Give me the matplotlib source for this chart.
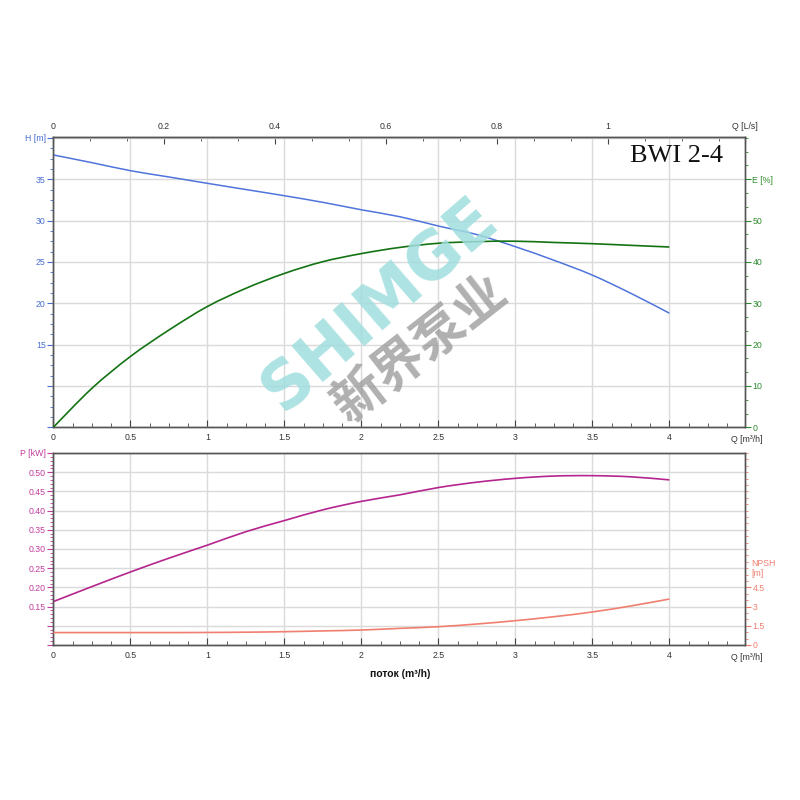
import numpy as np
import matplotlib
matplotlib.use("Agg")
import matplotlib.pyplot as plt
from matplotlib.ticker import MultipleLocator
from matplotlib.path import Path
from matplotlib.patches import PathPatch

plt.rcParams['font.family'] = ['Liberation Sans', 'DejaVu Sans']

# Data (Q in m3/h)
flow = [0, 0.25, 0.5, 0.75, 1.0, 1.25, 1.5, 1.75, 2.0, 2.25, 2.5, 2.75, 3.0, 3.25, 3.5, 3.75, 4.0]
head = [37.93, 37.0, 36.03, 35.27, 34.5, 33.75, 33.0, 32.2, 31.3, 30.46, 29.34, 28.3, 26.84, 25.2, 23.4, 21.2, 18.8]
eff = [0, 9.4, 17.1, 23.5, 29.2, 33.6, 37.2, 40.05, 42.0, 43.5, 44.5, 44.9, 45.0, 44.7, 44.4, 44.0, 43.6]
power = [0.163, 0.202, 0.240, 0.276, 0.310, 0.345, 0.374, 0.402, 0.424, 0.441, 0.460, 0.474, 0.484, 0.490, 0.491, 0.488, 0.480]
npsh = [0.97, 0.97, 0.97, 0.97, 0.98, 1.0, 1.04, 1.1, 1.17, 1.30, 1.43, 1.64, 1.90, 2.21, 2.58, 3.05, 3.59]

h_ticks = [5, 10, 15, 20, 25, 30, 35, 40]
h_labels = ['', '', '15', '20', '25', '30', '35', 'H [m]']
e_ticks = [0, 10, 20, 30, 40, 50, 60]
e_labels = ['0', '10', '20', '30', '40', '50', 'E [%]']
p_ticks = [0.05, 0.10, 0.15, 0.20, 0.25, 0.30, 0.35, 0.40, 0.45, 0.50, 0.55]
p_labels = ['', '', '0.15', '0.20', '0.25', '0.30', '0.35', '0.40', '0.45', '0.50', 'P [kW]']
n_ticks = [0, 1.5, 3, 4.5]
n_labels = ['0', '1.5', '3', '4.5']
q_ticks = [0, 0.5, 1, 1.5, 2, 2.5, 3, 3.5, 4]
q_labels = ['0', '0.5', '1', '1.5', '2', '2.5', '3', '3.5', '4']
ls_ticks = [0, 0.2, 0.4, 0.6, 0.8, 1.0]
ls_labels = ['0', '0.2', '0.4', '0.6', '0.8', '1']

c_h = '#4f74dc'
c_e = '#137313'
c_p = '#b5258f'
c_n = '#f07f70'
c_hl = '#4a6fd0'
c_el = '#2e8b2e'
c_pl = '#c23c9e'
c_spine = '#555555'
c_grid = '#dadada'
fs = 6.3

QMAX = 4.49


# smooth curve through the read points (Catmull-Rom drawn as bezier segments)
def smooth_line(ax, xs, ys, color, lw):
    p = np.column_stack([xs, ys]).astype(float)
    pts = [p[0]]
    codes = [Path.MOVETO]
    for i in range(len(p) - 1):
        p0 = p[i - 1] if i > 0 else p[i]
        p3 = p[i + 2] if i + 2 < len(p) else p[i + 1]
        c1 = p[i] + (p[i + 1] - p0) / 6
        c2 = p[i + 1] - (p3 - p[i]) / 6
        pts += [c1, c2, p[i + 1]]
        codes += [Path.CURVE4] * 3
    ax.add_patch(PathPatch(Path(pts, codes), fill=False, edgecolor=color, lw=lw, zorder=3))


fig = plt.figure(figsize=(8, 8), dpi=100)
ax_h = fig.add_axes([53.3 / 800, 1 - 427.3 / 800, 691.5 / 800, 290.3 / 800])
ax_e = ax_h.twinx()
ax_p = fig.add_axes([53.3 / 800, 1 - 645 / 800, 691.5 / 800, 192 / 800])
ax_n = ax_p.twinx()

for ax in (ax_h, ax_e, ax_p, ax_n):
    for s in ax.spines.values():
        s.set_color(c_spine)
        s.set_linewidth(1.0)

# Top chart: H and E
smooth_line(ax_h, flow, head, c_h, 1.1)
smooth_line(ax_e, flow, eff, c_e, 1.2)
ax_h.set_xlim(0, QMAX)
ax_h.set_ylim(5, 40.1)
ax_e.set_ylim(0, 70.2)

ax_h.set_yticks(h_ticks)
ax_h.set_yticklabels(h_labels)
ax_h.yaxis.set_minor_locator(MultipleLocator(1.25))
ax_h.tick_params(axis='y', which='major', direction='out', length=4, colors=c_hl, labelsize=fs, pad=1.5)
ax_h.tick_params(axis='y', which='minor', direction='out', length=2, color=c_hl)

ax_e.set_yticks(e_ticks)
ax_e.set_yticklabels(e_labels)
ax_e.yaxis.set_minor_locator(MultipleLocator(10 / 3))
ax_e.tick_params(axis='y', which='major', direction='out', length=4, colors=c_el, labelsize=fs, pad=1.5)
ax_e.tick_params(axis='y', which='minor', direction='out', length=2, color=c_el)

for ax in (ax_h, ax_p):
    ax.set_xlim(0, QMAX)
    ax.set_xticks(q_ticks)
    ax.set_xticklabels(q_labels)
    ax.xaxis.set_minor_locator(MultipleLocator(0.125))
    ax.tick_params(axis='x', which='major', direction='in', length=5, color='#444444',
                   labelcolor='#333333', labelsize=fs, pad=4)
    ax.tick_params(axis='x', which='minor', direction='in', length=3, color='#444444')
    ax.xaxis.grid(True, color=c_grid, lw=1.0)
    ax.yaxis.grid(True, color=c_grid, lw=1.0)
    ax.set_axisbelow(True)
    ax.annotate('Q [m³/h]', xy=(1.0, 0.0), xycoords='axes fraction', xytext=(1.5, -5.5),
                textcoords='offset points', ha='center', va='top', fontsize=fs, color='#333333')

top = ax_h.secondary_xaxis('top', functions=(lambda q: q / 3.6, lambda l: l * 3.6))
top.set_xticks(ls_ticks + [QMAX / 3.6])
top.set_xticklabels(ls_labels + ['Q [L/s]'])
top.xaxis.set_minor_locator(MultipleLocator(0.2 / 3))
top.tick_params(axis='x', which='major', direction='in', length=5, color='#444444',
                labelcolor='#333333', labelsize=fs, pad=4)
top.tick_params(axis='x', which='minor', direction='in', length=3, color='#444444')
top.spines['top'].set_color(c_spine)

# Bottom chart: P and NPSH
smooth_line(ax_p, flow, power, c_p, 1.2)
smooth_line(ax_n, flow, npsh, c_n, 1.2)
ax_p.set_ylim(0.05, 0.55)
ax_n.set_ylim(0, 15)

ax_p.set_yticks(p_ticks)
ax_p.set_yticklabels(p_labels)
ax_p.yaxis.set_minor_locator(MultipleLocator(0.01))
ax_p.tick_params(axis='y', which='major', direction='out', length=4, colors=c_pl, labelsize=fs, pad=1.5)
ax_p.tick_params(axis='y', which='minor', direction='out', length=2, color=c_pl)

ax_n.set_yticks(n_ticks)
ax_n.set_yticklabels(n_labels)
ax_n.yaxis.set_minor_locator(MultipleLocator(0.5))
ax_n.tick_params(axis='y', which='major', direction='out', length=4, colors=c_n, labelsize=fs, pad=1.5)
ax_n.tick_params(axis='y', which='minor', direction='out', length=2, color=c_n)
ax_n.annotate('NPSH\n[m]', xy=(1.0, 6.0), xycoords=('axes fraction', 'data'),
              xytext=(5, 0), textcoords='offset points', ha='left', va='center',
              color=c_n, fontsize=fs, linespacing=1.1)

# Model name
fig.text(677 / 800, 1 - 162 / 800, 'BWI 2-4', family='Liberation Serif', fontsize=19,
         ha='center', va='baseline', color='#111111')

# Watermark
fig.text(380 / 800, 1 - 305 / 800, 'SHIMGE', fontsize=47, fontweight='bold',
         color='#a0dede', alpha=0.85, rotation=41, ha='center', va='center',
         family='DejaVu Sans', zorder=1)
fig.text(420 / 800, 1 - 348 / 800, '新界泵业', fontsize=37, fontweight='bold',
         color='#969696', alpha=0.75, rotation=38, ha='center', va='center',
         family=['Noto Sans CJK SC', 'DejaVu Sans'], zorder=1)

fig.text(400 / 800, 1 - 674 / 800, 'поток (m³/h)', fontsize=7.5, fontweight='bold',
         ha='center', va='center', color='#111111')

fig.savefig('out.png', dpi=100)
